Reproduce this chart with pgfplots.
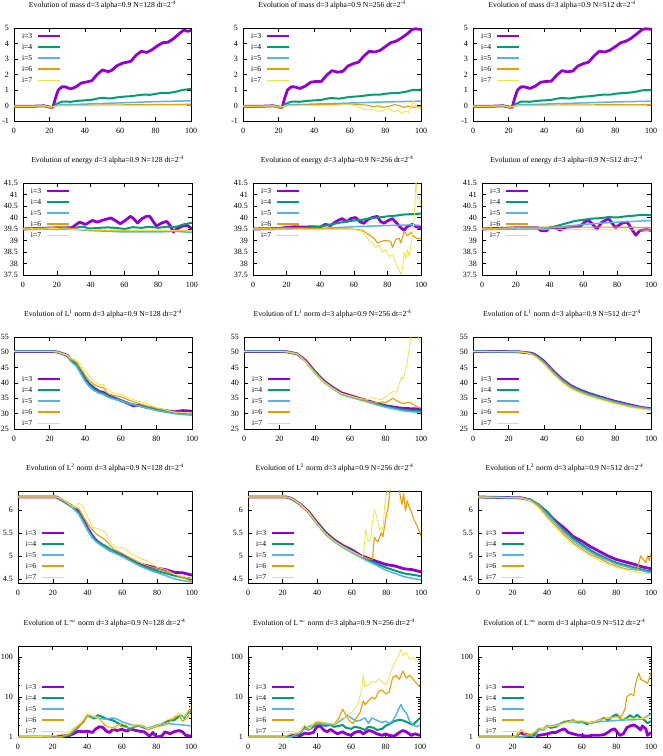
\documentclass[border=0pt]{standalone}
\usepackage{fontspec}
\setmainfont{Liberation Serif}
\usepackage{pgfplots}
\pgfplotsset{compat=1.18}
\definecolor{c3}{RGB}{148,0,211}
\definecolor{c4}{RGB}{0,158,115}
\definecolor{c5}{RGB}{86,180,233}
\definecolor{c6}{RGB}{230,159,0}
\definecolor{c7}{RGB}{240,228,66}
\pgfplotsset{
  legend image code/.code={\draw[#1] (0pt,0pt) -- (22pt,0pt);},
  gp/.style={
    scale only axis,
    xmin=0, xmax=100, xtick={0,20,...,100},
    tick align=inside,
    major tick length=4pt,
    minor tick length=2pt,
    tick style={black, line width=0.5pt},
    axis line style={black, line width=0.6pt},
    every tick label/.append style={font=\fontsize{8}{9}\selectfont},
    /pgf/number format/assume math mode=true,
    xticklabel style={anchor=base, yshift=-12.5pt},
    yticklabel style={xshift=-1.5pt},
    title style={font=\fontsize{7.7}{9}\selectfont, at={(0.5,1)}, anchor=base, inner sep=0pt, yshift=14.5pt},
    legend style={draw=none, fill=none, font=\fontsize{7.7}{9}\selectfont, inner sep=0pt, outer sep=0pt, row sep=4pt, column sep=4pt, nodes={inner sep=0pt, text height=6pt, text depth=1pt}},
    legend cell align=left,
    legend plot pos=right,
    no markers,
    every axis plot/.append style={line join=round},
  },
  legtop/.style={legend style={at={(0,1)}, anchor=north west, xshift=8pt, yshift=-4.5pt}},
  legbot/.style={legend style={at={(0,0)}, anchor=south west, xshift=8pt, yshift=2.5pt}},
  s3/.style={draw=c3, line width=2.8pt},
  s4/.style={draw=c4, line width=2.0pt},
  s5/.style={draw=c5, line width=1.5pt},
  s6/.style={draw=c6, line width=1.1pt},
  s7/.style={draw=c7, line width=0.8pt},
  mass/.style={gp, legtop, height=93pt, ymin=-1, ymax=5, ytick={-1,0,...,5}},
  ener/.style={gp, legtop, height=92pt, ymin=37.5, ymax=41.5, ytick={37.5,38,...,41.5}},
  lone/.style={gp, legbot, height=92pt, ymin=25, ymax=55, ytick={25,30,...,55}},
  ltwo/.style={gp, legbot, height=92pt, ymin=4.41, ymax=6.41, ytick={4.5,5,5.5,6}},
  linf/.style={gp, legbot, height=91pt, ymin=1, ymax=190, ytick={1,10,100}, yticklabels={1,10,100}, minor ytick={2,3,4,5,6,7,8,9,20,30,40,50,60,70,80,90}},
}
\begin{document}
\begin{tikzpicture}
\path[use as bounding box] (0pt,0pt) rectangle (663pt,756pt);

% ================= ROW 1: mass =================
\begin{axis}[mass, at={(14pt,635pt)}, anchor=south west, width=177pt,
  title={Evolution of mass d=3 alpha=0.9 N=128 dt=2\textsuperscript{-4}}]
\addplot[s3] coordinates {(0,-0.05)(10,-0.05)(17,-0.02)(20,-0.1)(22,-0.12)(23.5,0.5)(25,1.0)(27,1.2)(29,1.2)(32,1.07)(35,1.2)(38,1.45)(41,1.52)(44,1.6)(47,2.0)(50,2.3)(53,2.18)(55,2.25)(58,2.55)(61,2.72)(64,2.8)(66,2.85)(69,3.25)(72,3.5)(75,3.42)(78,3.6)(81,3.85)(84,4.05)(87,4.08)(90,4.3)(93,4.6)(96,4.88)(98,4.78)(100,4.85)};
\addplot[s4] coordinates {(0,-0.05)(10,-0.05)(17,-0.02)(20,-0.1)(22,-0.1)(24,0.1)(27,0.25)(32,0.24)(36,0.3)(40,0.33)(44,0.37)(48,0.47)(50,0.5)(54,0.45)(58,0.52)(62,0.57)(66,0.6)(70,0.66)(73,0.7)(77,0.69)(80,0.75)(84,0.82)(88,0.82)(92,0.9)(95,1.0)(100,1.07)};
\addplot[s5] coordinates {(0,-0.05)(10,-0.05)(17,-0.02)(20,-0.1)(22,-0.08)(25,0.03)(40,0.09)(60,0.17)(80,0.25)(100,0.3)};
\addplot[s6] coordinates {(0,-0.05)(10,-0.05)(17,-0.02)(20,-0.1)(22,-0.08)(25,-0.01)(50,0.03)(75,0.06)(100,0.08)};
\addplot[s7] coordinates {(0,-0.05)(10,-0.05)(17,-0.02)(20,-0.1)(22,-0.08)(25,-0.02)(60,0.0)(100,0.02)};
\legend{i=3,i=4,i=5,i=6,i=7}
\end{axis}

\begin{axis}[mass, at={(243pt,635pt)}, anchor=south west, width=178pt,
  title={Evolution of mass d=3 alpha=0.9 N=256 dt=2\textsuperscript{-4}}]
\addplot[s3] coordinates {(0,-0.05)(10,-0.05)(17,-0.02)(20,-0.1)(22,-0.12)(23.5,0.5)(25,1.0)(27,1.2)(29,1.2)(32,1.1)(35,1.25)(38,1.5)(41,1.55)(44,1.55)(47,1.95)(50,2.25)(53,2.15)(56,2.2)(59,2.55)(62,2.7)(65,2.8)(68,3.2)(71,3.5)(74,3.45)(77,3.55)(80,3.8)(83,4.05)(86,4.15)(89,4.35)(92,4.6)(95,4.9)(97,4.95)(100,4.9)};
\addplot[s4] coordinates {(0,-0.05)(10,-0.05)(17,-0.02)(20,-0.1)(22,-0.1)(24,0.1)(27,0.25)(32,0.24)(36,0.3)(40,0.33)(44,0.36)(48,0.46)(50,0.48)(54,0.44)(58,0.52)(62,0.57)(66,0.6)(70,0.66)(73,0.7)(77,0.7)(80,0.76)(84,0.8)(88,0.82)(92,0.9)(95,1.0)(100,1.02)};
\addplot[s5] coordinates {(0,-0.05)(10,-0.05)(17,-0.02)(20,-0.1)(22,-0.08)(25,0.03)(40,0.09)(60,0.16)(80,0.23)(100,0.28)};
\addplot[s6] coordinates {(0,-0.05)(10,-0.05)(17,-0.02)(20,-0.1)(22,-0.08)(25,0)(40,0.05)(60,0.1)(65,0.06)(70,0.02)(73,-0.08)(76,-0.03)(79,-0.12)(82,-0.05)(85,0.05)(88,0.0)(90,-0.12)(93,-0.05)(96,-0.12)(100,-0.05)};
\addplot[s7] coordinates {(0,-0.05)(10,-0.05)(17,-0.02)(20,-0.1)(22,-0.08)(25,-0.02)(50,0.02)(60,0.05)(64,-0.05)(67,-0.2)(70,-0.3)(73,-0.22)(76,-0.38)(79,-0.3)(82,-0.2)(85,-0.42)(87,-0.3)(89,-0.52)(91,-0.35)(93,-0.45)(95,0.1)(96,0.32)(97,-0.1)(100,-0.2)};
\legend{i=3,i=4,i=5,i=6,i=7}
\end{axis}

\begin{axis}[mass, at={(473pt,635pt)}, anchor=south west, width=178pt,
  title={Evolution of mass d=3 alpha=0.9 N=512 dt=2\textsuperscript{-4}}]
\addplot[s3] coordinates {(0,-0.05)(10,-0.05)(17,-0.02)(20,-0.1)(22,-0.12)(23.5,0.5)(25,1.0)(27,1.2)(29,1.2)(32,1.1)(35,1.25)(38,1.5)(41,1.55)(44,1.57)(47,1.95)(50,2.25)(53,2.17)(56,2.22)(59,2.55)(62,2.7)(65,2.8)(68,3.2)(71,3.5)(74,3.45)(77,3.57)(80,3.8)(83,4.05)(86,4.15)(89,4.35)(92,4.62)(95,4.9)(97,4.95)(100,4.92)};
\addplot[s4] coordinates {(0,-0.05)(10,-0.05)(17,-0.02)(20,-0.1)(22,-0.1)(24,0.1)(27,0.25)(32,0.24)(36,0.3)(40,0.33)(44,0.36)(48,0.46)(50,0.48)(54,0.45)(58,0.52)(62,0.57)(66,0.6)(70,0.66)(73,0.7)(77,0.7)(80,0.76)(84,0.8)(88,0.83)(92,0.9)(95,0.98)(100,1.0)};
\addplot[s5] coordinates {(0,-0.05)(10,-0.05)(17,-0.02)(20,-0.1)(22,-0.08)(25,0.03)(40,0.09)(60,0.16)(80,0.23)(100,0.28)};
\addplot[s6] coordinates {(0,-0.05)(10,-0.05)(17,-0.02)(20,-0.1)(22,-0.08)(25,0)(50,0.03)(75,0.05)(100,0.06)};
\addplot[s7] coordinates {(0,-0.05)(10,-0.05)(17,-0.02)(20,-0.1)(22,-0.08)(25,-0.02)(60,0.0)(100,0.01)};
\legend{i=3,i=4,i=5,i=6,i=7}
\end{axis}

% ================= ROW 2: energy =================
\begin{axis}[ener, at={(23pt,481pt)}, anchor=south west, width=169pt,
  title={Evolution of energy d=3 alpha=0.9 N=128 dt=2\textsuperscript{-4}}]
\addplot[s3] coordinates {(0,39.5)(20,39.55)(25,39.55)(29,39.56)(33.5,39.8)(37,39.7)(41,39.87)(44,39.8)(48,39.9)(52,39.98)(54.6,39.87)(57.6,39.73)(60.5,39.87)(63.5,40.05)(65.5,39.95)(67.8,39.76)(70.4,39.95)(73,40.05)(75,40.05)(77,39.83)(79,39.63)(82,39.76)(85,39.83)(87,39.66)(89,39.37)(91,39.5)(94,39.62)(97,39.66)(100,39.51)};
\addplot[s4] coordinates {(0,39.5)(30,39.52)(33,39.58)(36,39.6)(39,39.52)(45,39.55)(50,39.57)(55,39.55)(60,39.5)(65,39.58)(70,39.55)(75,39.6)(80,39.55)(85,39.6)(90,39.58)(95,39.7)(100,39.77)};
\addplot[s5] coordinates {(0,39.5)(30,39.48)(40,39.43)(60,39.37)(80,39.37)(90,39.4)(100,39.35)};
\addplot[s6] coordinates {(0,39.5)(15,39.55)(22,39.6)(28,39.52)(40,39.45)(60,39.43)(80,39.43)(100,39.42)};
\addplot[s7] coordinates {(0,39.5)(20,39.52)(30,39.48)(50,39.45)(80,39.43)(100,39.45)};
\legend{i=3,i=4,i=5,i=6,i=7}
\end{axis}

\begin{axis}[ener, at={(253pt,481pt)}, anchor=south west, width=168pt,
  title={Evolution of energy d=3 alpha=0.9 N=256 dt=2\textsuperscript{-4}}]
\addplot[s3] coordinates {(0,39.5)(15,39.52)(20,39.57)(25,39.6)(30,39.58)(35,39.6)(40,39.58)(43,39.7)(46,39.65)(50,39.85)(53,39.95)(56,39.82)(58,39.95)(61,40.0)(64,39.8)(66,39.75)(68,39.9)(71,40.0)(74,40.05)(76,39.82)(78,39.75)(80,39.85)(83,39.95)(85,39.8)(88,39.55)(90,39.45)(92,39.62)(95,39.7)(97,39.6)(100,39.55)};
\addplot[s4] coordinates {(0,39.5)(20,39.5)(30,39.55)(40,39.6)(45,39.68)(50,39.75)(55,39.82)(60,39.87)(65,39.9)(70,39.98)(75,40.0)(80,40.05)(85,40.08)(90,40.13)(95,40.15)(100,40.17)};
\addplot[s5] coordinates {(0,39.5)(40,39.52)(60,39.6)(80,39.65)(95,39.68)(100,39.65)};
\addplot[s6] coordinates {(0,39.5)(20,39.55)(30,39.52)(60,39.5)(65,39.45)(68,39.3)(72,39.1)(74,38.9)(76,38.95)(78,39.0)(80,39.0)(82,38.95)(83,38.7)(85,39.05)(87,39.1)(88,38.9)(90,39.4)(92,39.2)(94,39.35)(96,39.15)(98,39.08)(100,39.1)};
\addplot[s7] coordinates {(0,39.5)(60,39.48)(65,39.4)(67,39.2)(69,39.0)(71,38.9)(73,38.7)(75,38.8)(77,38.5)(79,38.6)(81,38.3)(83,38.4)(85,38.0)(87,37.7)(88,37.5)(89,37.8)(90,38.5)(91,38.2)(92,38.6)(93,38.3)(94,38.8)(95,39.3)(96,40.0)(97,41.6)(98,40.8)(99,40.9)(100,40.5)};
\legend{i=3,i=4,i=5,i=6,i=7}
\end{axis}

\begin{axis}[ener, at={(482pt,481pt)}, anchor=south west, width=169pt,
  title={Evolution of energy d=3 alpha=0.9 N=512 dt=2\textsuperscript{-4}}]
\addplot[s3] coordinates {(0,39.5)(20,39.55)(30,39.55)(33,39.55)(35,39.42)(38,39.42)(40,39.55)(44,39.55)(46,39.45)(50,39.59)(55,39.6)(58,39.62)(62,39.87)(64,39.82)(68,39.5)(71,39.8)(75,39.95)(77,39.75)(79,39.56)(83,39.76)(86,39.8)(88.5,39.5)(91,39.23)(93.5,39.44)(97.5,39.47)(100,39.44)};
\addplot[s4] coordinates {(0,39.5)(38,39.52)(40,39.55)(45,39.65)(50,39.75)(55,39.85)(60,39.9)(65,39.95)(70,39.97)(75,40.02)(80,40.0)(85,40.05)(90,40.08)(95,40.12)(100,40.1)};
\addplot[s5] coordinates {(0,39.5)(40,39.55)(50,39.62)(60,39.7)(70,39.75)(80,39.8)(90,39.83)(100,39.87)};
\addplot[s6] coordinates {(0,39.5)(15,39.55)(25,39.58)(50,39.58)(75,39.58)(100,39.57)};
\addplot[s7] coordinates {(0,39.5)(30,39.5)(60,39.47)(100,39.45)};
\legend{i=3,i=4,i=5,i=6,i=7}
\end{axis}

% ================= ROW 3: L1 =================
\begin{axis}[lone, at={(14pt,327pt)}, anchor=south west, width=178pt,
  title={Evolution of L\textsuperscript{1} norm d=3 alpha=0.9 N=128 dt=2\textsuperscript{-4}}]
\addplot[s3] coordinates {(0,50.3)(22,50.3)(25,50.0)(28,49.4)(30,49.0)(32,47.5)(35,46.2)(38,43.5)(40,41.2)(42,39.8)(45,38.3)(48,37.2)(50,37.0)(53,35.8)(56,35.2)(60,34.3)(63,33.6)(67,32.6)(70,32.8)(75,32.0)(80,31.5)(85,31.0)(90,30.6)(95,31.0)(100,30.8)};
\addplot[s4] coordinates {(0,50.3)(22,50.3)(25,50.0)(28,49.4)(30,49.0)(32,47.3)(35,46.0)(38,43.2)(40,41.0)(42,39.5)(45,38.0)(48,37.0)(50,36.6)(53,35.6)(56,35.0)(60,34.3)(65,33.3)(70,32.6)(75,32.0)(80,31.3)(85,30.8)(90,30.3)(95,30.2)(100,30.0)};
\addplot[s5] coordinates {(0,50.3)(22,50.3)(25,50.0)(28,49.4)(30,49.0)(32,47.0)(35,45.5)(38,42.5)(40,40.5)(42,39.0)(45,37.5)(48,36.6)(50,36.3)(53,35.3)(56,34.8)(60,34.2)(65,33.2)(70,32.5)(75,31.8)(80,31.0)(85,30.5)(90,30.0)(95,29.7)(100,29.5)};
\addplot[s6] coordinates {(0,50.3)(22,50.3)(25,50.0)(28,49.4)(30,49.0)(32,47.8)(35,46.8)(38,44.3)(40,42.5)(42,41.0)(45,39.5)(48,38.7)(50,38.5)(53,36.5)(56,36.0)(60,35.5)(65,34.3)(70,33.3)(75,32.5)(80,31.8)(85,31.2)(90,30.6)(95,30.3)(100,30.0)};
\addplot[s7] coordinates {(0,50.3)(22,50.3)(25,50.0)(28,49.4)(30,49.0)(32,48.0)(35,47.5)(38,45.5)(40,44.0)(42,42.5)(45,40.5)(48,39.5)(50,39.5)(52,38.2)(55,37.0)(58,36.5)(60,36.3)(65,35.0)(70,34.0)(73,33.6)(75,33.3)(80,32.0)(85,31.2)(90,30.5)(95,30.4)(100,30.3)};
\legend{i=3,i=4,i=5,i=6,i=7}
\end{axis}

\begin{axis}[lone, at={(244pt,327pt)}, anchor=south west, width=177pt,
  title={Evolution of L\textsuperscript{1} norm d=3 alpha=0.9 N=256 dt=2\textsuperscript{-4}}]
\addplot[s3] coordinates {(0,50.3)(22,50.3)(25,50.1)(30,49.5)(35,47.2)(40,43.7)(45,40.7)(50,38.6)(55,36.8)(60,35.9)(65,35.0)(70,34.2)(75,33.3)(80,32.6)(85,32.1)(90,31.7)(95,31.6)(100,31.5)};
\addplot[s4] coordinates {(0,50.3)(22,50.3)(25,50.1)(30,49.5)(35,47.0)(40,43.5)(45,40.5)(50,38.4)(55,36.5)(60,35.6)(65,34.8)(70,34.0)(75,33.1)(80,32.4)(85,31.8)(90,31.3)(95,31.0)(100,30.9)};
\addplot[s5] coordinates {(0,50.3)(22,50.3)(25,50.1)(30,49.5)(35,46.9)(40,43.3)(45,40.3)(50,38.2)(55,36.3)(60,35.4)(65,34.6)(70,33.8)(75,32.9)(80,32.1)(85,31.5)(90,30.9)(95,30.6)(100,30.4)};
\addplot[s6] coordinates {(0,50.3)(22,50.3)(25,50.1)(30,49.5)(35,47.0)(40,43.5)(45,40.5)(50,38.4)(55,36.6)(60,35.7)(65,34.9)(70,34.1)(75,33.5)(78,33.8)(80,33.6)(82,34.3)(84,35.0)(86,34.3)(88,33.7)(90,33.3)(92,33.6)(94,33.7)(96,32.8)(98,32.2)(100,31.8)};
\addplot[s7] coordinates {(0,50.3)(22,50.3)(25,50.1)(30,49.5)(35,46.8)(40,43.3)(45,40.4)(50,38.3)(55,36.6)(60,35.8)(65,35.0)(70,34.6)(72,35.3)(75,34.8)(78,34.6)(80,35.5)(82,36.5)(84,37.2)(86,37.0)(88,40.2)(89,42.0)(90,41.3)(91,43.5)(92,46.0)(93,50.0)(94,54.0)(95,58)(97,60)(98,56)(99,53.5)(100,53.0)};
\legend{i=3,i=4,i=5,i=6,i=7}
\end{axis}

\begin{axis}[lone, at={(473pt,327pt)}, anchor=south west, width=178pt,
  title={Evolution of L\textsuperscript{1} norm d=3 alpha=0.9 N=512 dt=2\textsuperscript{-4}}]
\addplot[s3] coordinates {(0,50.3)(25,50.2)(30,49.9)(33,49.7)(36,48.8)(40,47.0)(45,43.9)(50,41.2)(55,39.1)(60,37.7)(65,36.6)(70,35.7)(75,34.8)(80,34.0)(85,33.3)(90,32.6)(95,32.0)(100,31.6)};
\addplot[s4] coordinates {(0,50.3)(25,50.2)(30,49.9)(33,49.5)(36,48.6)(40,46.8)(45,43.7)(50,41.0)(55,38.9)(60,37.5)(65,36.4)(70,35.5)(75,34.6)(80,33.8)(85,33.1)(90,32.4)(95,31.9)(100,31.5)};
\addplot[s5] coordinates {(0,50.3)(25,50.2)(30,49.9)(33,49.5)(36,48.5)(40,46.6)(45,43.5)(50,40.8)(55,38.7)(60,37.3)(65,36.2)(70,35.3)(75,34.5)(80,33.7)(85,33.0)(90,32.4)(95,31.9)(100,31.5)};
\addplot[s6] coordinates {(0,50.3)(25,50.2)(30,49.9)(33,49.4)(36,48.3)(40,46.3)(45,43.2)(50,40.5)(55,38.4)(60,37.0)(65,35.9)(70,35.0)(75,34.2)(80,33.4)(85,32.7)(90,32.1)(95,31.6)(100,31.2)};
\addplot[s7] coordinates {(0,50.3)(25,50.2)(30,49.9)(33,49.3)(36,48.1)(40,46.0)(45,42.9)(50,40.2)(55,38.1)(60,36.8)(65,35.7)(70,34.8)(75,34.0)(80,33.2)(85,32.5)(90,31.9)(95,31.5)(100,31.1)};
\legend{i=3,i=4,i=5,i=6,i=7}
\end{axis}

% ================= ROW 4: L2 =================
\begin{axis}[ltwo, at={(18pt,173pt)}, anchor=south west, width=174pt,
  title={Evolution of L\textsuperscript{2} norm d=3 alpha=0.9 N=128 dt=2\textsuperscript{-4}}]
\addplot[s3] coordinates {(0,6.28)(22,6.28)(25,6.22)(28,6.15)(30,6.1)(33,6.02)(35,5.95)(38,5.75)(40,5.6)(43,5.42)(45,5.33)(48,5.25)(50,5.2)(53,5.12)(56,5.08)(60,5.02)(65,4.9)(70,4.82)(75,4.78)(80,4.73)(85,4.7)(90,4.64)(95,4.63)(100,4.58)};
\addplot[s4] coordinates {(0,6.28)(22,6.28)(25,6.22)(28,6.15)(30,6.1)(33,6.0)(35,5.93)(38,5.72)(40,5.58)(43,5.4)(45,5.32)(48,5.25)(50,5.22)(55,5.1)(60,5.0)(65,4.9)(70,4.8)(75,4.73)(80,4.67)(85,4.62)(90,4.57)(95,4.53)(100,4.5)};
\addplot[s5] coordinates {(0,6.28)(22,6.28)(25,6.22)(28,6.15)(30,6.1)(33,5.98)(35,5.9)(38,5.7)(40,5.55)(43,5.38)(45,5.3)(48,5.22)(50,5.18)(55,5.07)(60,4.98)(65,4.88)(70,4.78)(75,4.7)(80,4.63)(85,4.57)(90,4.5)(95,4.46)(100,4.43)};
\addplot[s6] coordinates {(0,6.28)(22,6.28)(25,6.24)(28,6.17)(30,6.12)(33,6.05)(35,6.02)(38,5.82)(40,5.7)(43,5.55)(45,5.48)(48,5.4)(50,5.35)(55,5.15)(60,5.05)(65,4.95)(70,4.85)(75,4.78)(80,4.72)(85,4.66)(90,4.6)(95,4.52)(100,4.45)};
\addplot[s7] coordinates {(0,6.28)(22,6.28)(25,6.25)(28,6.18)(30,6.1)(33,6.05)(35,6.15)(37,6.1)(40,5.85)(43,5.62)(45,5.6)(48,5.55)(50,5.52)(53,5.3)(56,5.2)(60,5.18)(65,5.05)(70,4.95)(75,4.88)(80,4.75)(85,4.7)(90,4.6)(95,4.55)(100,4.5)};
\legend{i=3,i=4,i=5,i=6,i=7}
\end{axis}

\begin{axis}[ltwo, at={(248pt,173pt)}, anchor=south west, width=173pt,
  title={Evolution of L\textsuperscript{2} norm d=3 alpha=0.9 N=256 dt=2\textsuperscript{-4}}]
\addplot[s3] coordinates {(0,6.28)(22,6.28)(25,6.25)(30,6.13)(35,5.96)(40,5.72)(45,5.5)(50,5.34)(55,5.22)(60,5.13)(65,5.01)(70,4.94)(75,4.87)(80,4.81)(85,4.78)(90,4.72)(95,4.7)(100,4.65)};
\addplot[s4] coordinates {(0,6.28)(22,6.28)(25,6.25)(30,6.13)(35,5.95)(40,5.7)(45,5.48)(50,5.32)(55,5.2)(60,5.1)(65,4.99)(70,4.9)(75,4.82)(80,4.74)(85,4.68)(90,4.62)(95,4.59)(100,4.56)};
\addplot[s5] coordinates {(0,6.28)(22,6.28)(25,6.25)(30,6.13)(35,5.94)(40,5.69)(45,5.46)(50,5.3)(55,5.18)(60,5.07)(65,4.97)(70,4.87)(75,4.78)(80,4.68)(85,4.62)(90,4.55)(95,4.51)(100,4.48)};
\addplot[s6] coordinates {(0,6.28)(22,6.28)(25,6.25)(30,6.13)(35,5.95)(40,5.7)(45,5.48)(50,5.32)(55,5.2)(60,5.1)(65,5.0)(70,4.93)(72,4.93)(73,5.4)(75,5.3)(77,5.5)(78,5.42)(80,5.9)(81,6.05)(82,6.4)(83,6.6)(85,6.8)(87,6.6)(88,6.3)(89,6.12)(90,6.35)(91,5.98)(92,6.2)(93,6.08)(94,6.0)(96,5.78)(98,5.64)(100,5.42)};
\addplot[s7] coordinates {(0,6.28)(22,6.28)(25,6.25)(30,6.13)(35,5.95)(40,5.7)(45,5.48)(50,5.32)(55,5.2)(60,5.1)(65,5.0)(66,4.98)(67,5.1)(68,5.58)(69,5.35)(70,5.3)(71,5.42)(72,5.75)(73,6.0)(74,5.9)(75,5.75)(76,5.55)(77,5.62)(78,5.55)(79,6.1)(80,6.35)(81,6.5)(82,7)(100,7)};
\legend{i=3,i=4,i=5,i=6,i=7}
\end{axis}

\begin{axis}[ltwo, at={(478pt,173pt)}, anchor=south west, width=173pt,
  title={Evolution of L\textsuperscript{2} norm d=3 alpha=0.9 N=512 dt=2\textsuperscript{-4}}]
\addplot[s3] coordinates {(0,6.28)(25,6.26)(30,6.22)(35,6.1)(40,5.95)(43,5.82)(46,5.72)(50,5.6)(55,5.42)(60,5.32)(65,5.2)(70,5.1)(75,5.0)(80,4.92)(85,4.87)(90,4.82)(95,4.76)(100,4.72)};
\addplot[s4] coordinates {(0,6.28)(25,6.26)(30,6.22)(35,6.12)(40,5.95)(45,5.72)(50,5.55)(55,5.38)(60,5.25)(65,5.12)(70,5.02)(75,4.93)(80,4.85)(85,4.8)(90,4.75)(95,4.7)(100,4.66)};
\addplot[s5] coordinates {(0,6.28)(25,6.26)(30,6.22)(35,6.1)(40,5.9)(45,5.7)(50,5.5)(55,5.33)(60,5.2)(65,5.08)(70,4.98)(75,4.9)(80,4.82)(90,4.72)(100,4.63)};
\addplot[s6] coordinates {(0,6.28)(25,6.26)(30,6.2)(35,6.08)(40,5.85)(45,5.65)(50,5.45)(55,5.28)(60,5.15)(65,5.03)(70,4.95)(75,4.85)(80,4.78)(85,4.72)(90,4.7)(92,4.68)(93,4.85)(94,5.0)(96,4.9)(97,4.85)(98,5.0)(99,4.9)(100,5.05)};
\addplot[s7] coordinates {(0,6.28)(25,6.26)(30,6.2)(35,6.05)(40,5.82)(45,5.62)(50,5.42)(55,5.25)(60,5.12)(65,5.0)(70,4.9)(75,4.82)(80,4.75)(85,4.7)(90,4.65)(95,4.63)(100,4.6)};
\legend{i=3,i=4,i=5,i=6,i=7}
\end{axis}

% ================= ROW 5: Linf =================
\begin{semilogyaxis}[linf, at={(18pt,19pt)}, anchor=south west, width=173pt,
  title={Evolution of L\textsuperscript{$\infty$} norm d=3 alpha=0.9 N=128 dt=2\textsuperscript{-4}}]
\addplot[s3] coordinates {(0,1)(20,1.0)(25,1.05)(30,1.1)(35,1.4)(38,1.35)(40,1.4)(43,1.3)(45,1.6)(47,1.8)(49,1.75)(51,1.4)(53,1.3)(55,1.6)(57,1.45)(60,1.55)(63,1.4)(65,1.6)(67,1.5)(70,1.4)(73,1.35)(76,1.05)(78,1.3)(80,1.0)(83,1.05)(85,1.35)(88,1.2)(90,1.35)(93,1.45)(95,1.35)(97,1.1)(100,1.05)};
\addplot[s4] coordinates {(0,1)(25,1.0)(30,1.1)(35,1.8)(38,2.5)(40,3.5)(42,3.2)(44,2.9)(46,3.5)(48,3.3)(50,3.0)(52,2.8)(55,2.6)(58,2.2)(60,2.0)(63,1.8)(65,1.5)(67,1.8)(70,1.9)(73,1.7)(75,1.6)(78,1.8)(80,1.9)(83,2.1)(86,2.5)(88,2.6)(90,2.6)(92,3.0)(94,3.5)(96,3.0)(98,4.0)(100,4.5)};
\addplot[s5] coordinates {(0,1)(25,1.0)(30,1.2)(35,1.9)(40,3.3)(42,3.5)(45,3.0)(50,2.8)(55,3.0)(58,2.7)(60,2.4)(63,2.2)(66,2.0)(70,1.9)(73,1.8)(75,1.6)(80,2.0)(85,2.2)(90,2.1)(95,2.0)(100,1.9)};
\addplot[s6] coordinates {(0,1)(18,1.0)(20,1.1)(25,1.0)(30,1.2)(33,1.6)(36,2.0)(38,2.5)(40,3.5)(42,3.0)(45,3.3)(48,2.6)(50,2.0)(52,1.8)(55,1.7)(58,2.0)(60,1.8)(65,1.7)(70,2.0)(73,1.9)(75,1.5)(80,1.8)(85,2.0)(88,2.5)(90,3.0)(93,3.5)(95,2.5)(98,3.0)(100,5.0)};
\addplot[s7] coordinates {(0,1)(18,1.05)(22,1.1)(25,1.2)(30,1.4)(33,1.8)(36,2.2)(38,2.8)(40,3.8)(42,3.5)(45,3.2)(48,2.5)(50,2.2)(52,1.8)(55,1.6)(60,2.2)(65,1.9)(70,2.1)(75,1.6)(80,1.9)(85,2.5)(90,3.2)(93,4.0)(95,3.0)(97,3.5)(100,6.0)};
\legend{i=3,i=4,i=5,i=6,i=7}
\end{semilogyaxis}

\begin{semilogyaxis}[linf, at={(248pt,19pt)}, anchor=south west, width=172pt,
  title={Evolution of L\textsuperscript{$\infty$} norm d=3 alpha=0.9 N=256 dt=2\textsuperscript{-4}}]
\addplot[s3] coordinates {(0,1)(22,1.0)(25,1.1)(28,1.15)(30,1.05)(33,1.25)(35,1.2)(38,1.3)(40,1.8)(42,1.9)(44,1.5)(46,1.35)(48,1.55)(50,1.35)(52,1.2)(55,1.35)(57,1.2)(60,1.1)(62,1.3)(65,1.4)(67,1.2)(70,1.45)(72,1.4)(75,1.2)(78,1.1)(80,1.2)(82,1.1)(85,1.05)(88,1.3)(90,1.45)(92,1.35)(95,1.1)(97,1.2)(100,1.1)};
\addplot[s4] coordinates {(0,1)(25,1.0)(30,1.2)(33,1.8)(35,1.5)(38,1.8)(40,2.2)(42,2.1)(45,1.9)(48,2.0)(50,1.8)(53,1.9)(55,2.0)(57,1.7)(60,1.6)(62,1.8)(65,1.7)(68,1.5)(70,1.8)(73,1.7)(75,1.5)(78,1.6)(80,1.9)(83,2.2)(85,2.5)(88,2.7)(90,2.6)(93,2.3)(96,2.0)(98,2.5)(100,3.0)};
\addplot[s5] coordinates {(0,1)(25,1.0)(30,1.3)(35,1.8)(40,2.2)(45,2.1)(50,2.0)(55,2.8)(58,3.5)(60,3.0)(63,2.5)(65,2.6)(68,3.0)(70,2.2)(72,3.0)(75,2.6)(78,2.3)(80,2.5)(82,2.2)(84,2.5)(86,3.5)(88,5.5)(89,6.5)(90,5.0)(92,4.0)(94,2.5)(96,2.0)(98,1.8)(100,2.0)};
\addplot[s6] coordinates {(0,1)(20,1.0)(25,1.2)(30,1.3)(33,2.0)(35,1.5)(38,2.0)(40,2.4)(45,2.2)(50,2.1)(53,3.0)(55,5.0)(57,3.5)(59,2.5)(61,2.2)(63,3.0)(65,4.0)(67,8.0)(68,6.5)(70,8.0)(72,10)(74,9)(76,14)(78,15)(80,12)(82,13)(84,30)(86,35)(88,28)(90,45)(92,30)(94,35)(96,28)(98,22)(100,18)};
\addplot[s7] coordinates {(0,1)(20,1.0)(25,1.2)(30,1.3)(33,2.0)(36,1.6)(38,2.2)(40,2.5)(45,2.3)(50,2.1)(55,3.0)(58,3.2)(60,4.0)(62,5.0)(64,7.0)(66,15)(67,35)(68,18)(70,20)(72,25)(74,23)(76,28)(78,25)(80,20)(82,30)(84,55)(86,80)(88,120)(89,160)(90,110)(92,130)(94,90)(96,100)(98,80)(100,75)};
\legend{i=3,i=4,i=5,i=6,i=7}
\end{semilogyaxis}

\begin{semilogyaxis}[linf, at={(478pt,19pt)}, anchor=south west, width=173pt,
  title={Evolution of L\textsuperscript{$\infty$} norm d=3 alpha=0.9 N=512 dt=2\textsuperscript{-4}}]
\addplot[s3] coordinates {(0,1)(22,1.0)(24,1.3)(26,1.2)(28,1.15)(30,1.1)(33,1.05)(35,1.1)(38,1.15)(40,1.2)(43,1.3)(45,1.3)(48,1.5)(50,1.6)(52,1.3)(55,1.2)(58,1.1)(60,1.1)(63,1.05)(66,1.1)(70,1.1)(73,1.15)(75,1.3)(77,1.5)(79,1.6)(80,1.4)(82,1.1)(84,1.2)(86,1.7)(88,1.9)(90,2.0)(92,1.8)(94,1.5)(95,1.9)(97,1.6)(98,1.1)(100,1.3)};
\addplot[s4] coordinates {(0,1)(25,1.0)(30,1.05)(33,1.2)(35,1.6)(38,1.6)(40,1.9)(42,1.7)(45,1.8)(48,2.2)(50,2.4)(55,2.6)(58,2.3)(60,2.4)(63,2.1)(65,2.3)(68,2.4)(70,2.6)(73,3.0)(75,2.6)(78,3.3)(80,3.7)(82,3.0)(84,2.7)(86,3.0)(88,3.5)(90,3.0)(92,3.6)(94,3.0)(96,2.7)(98,2.2)(100,2.5)};
\addplot[s5] coordinates {(0,1)(25,1.0)(30,1.1)(33,1.0)(35,1.5)(38,1.5)(40,1.8)(45,2.0)(50,2.3)(55,2.4)(60,2.4)(65,2.2)(70,2.4)(75,2.5)(80,2.6)(85,2.7)(90,2.7)(95,2.8)(100,3.8)};
\addplot[s6] coordinates {(0,1)(20,1.0)(23,1.1)(25,1.5)(27,1.2)(30,1.1)(33,1.3)(35,1.6)(37,1.5)(40,2.0)(42,1.8)(45,1.9)(48,2.1)(50,2.3)(55,2.7)(58,2.4)(60,2.5)(65,2.2)(70,2.7)(75,3.0)(80,3.2)(83,3.4)(85,5.0)(86,10)(88,12)(90,11)(91,20)(92,30)(93,40)(94,28)(96,25)(98,22)(100,40)};
\addplot[s7] coordinates {(0,1)(20,1.0)(23,1.2)(25,1.6)(28,1.3)(30,1.2)(33,1.4)(35,1.7)(38,1.6)(40,1.8)(45,1.9)(50,2.2)(55,2.5)(60,2.6)(65,2.3)(70,2.6)(75,2.9)(80,3.1)(85,2.8)(90,3.0)(95,2.9)(100,3.0)};
\legend{i=3,i=4,i=5,i=6,i=7}
\end{semilogyaxis}

\end{tikzpicture}
\end{document}
